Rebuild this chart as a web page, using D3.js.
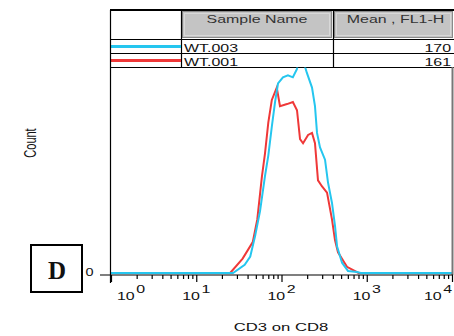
<!DOCTYPE html>
<html>
<head>
  <meta charset="utf-8">
  <script src="https://d3js.org/d3.v7.min.js"></script>
  <style>
    body { margin: 0; background: #fff; }
    text { font-family: "Liberation Sans", Arial, sans-serif; fill: #111; }
  </style>
</head>
<body>
<svg id="chart"></svg>
<script>

// histogram traces, fluorescence (FL1-H) vs count
var blueFL    = [1, 27, 37, 43, 49, 56, 64, 70, 77, 84, 91, 104, 119, 136, 152, 160, 172, 189, 199, 228, 247, 261, 283, 324, 351, 391, 424, 448, 513, 603, 770, 850, 10000];
var blueCount = [0, 0, 4, 8, 18, 30, 47, 57, 71, 83, 92, 95, 96, 95, 99, 110, 106, 100, 97, 90, 81, 68, 61, 55, 44, 34, 23, 13, 5, 1, 0.5, 0, 0];

var redFL     = [1, 25, 35, 46, 52, 59, 64, 70, 77, 88, 96, 116, 136, 152, 165, 179, 205, 228, 247, 268, 299, 342, 391, 424, 460, 586, 800, 10000];
var redCount  = [0, 0, 7, 15, 26, 47, 58, 73, 84, 90, 81, 82, 83, 79, 65, 63, 67, 68, 63, 45, 42, 39, 26, 16, 10, 3, 0, 0];

var sampleNames = ["WT.003", "WT.001"];
var sampleMeans = ["170", "161"];
var sampleColors = ["#25c6ef", "#ef3838"];
var tableHeaders = ["Sample Name", "Mean , FL1-H"];
var decades = [0, 1, 2, 3, 4];

var W = 454, H = 336;
var sx = 1.45; // the original picture is stretched sideways

var svg = d3.select("#chart").attr("width", W).attr("height", H);

var x = d3.scaleLog().domain([1, 10000]).range([111, 452]);
var y = d3.scaleLinear().domain([0, 100]).range([273, 67]);

function stext(parent, tx, ty, str, size, anchor) {
  var g = parent.append("g").attr("transform", "translate(" + tx + "," + ty + ") scale(" + sx + ",1)");
  return g.append("text").attr("font-size", size).attr("text-anchor", anchor || "start").text(str);
}

// ---- table (legend) ----
var tbl = svg.append("g");
var rowTop = {head: 10}, rowBot = {head: 39};
rowTop[sampleNames[0]] = 39; rowBot[sampleNames[0]] = 53;
rowTop[sampleNames[1]] = 53; rowBot[sampleNames[1]] = 67;
var colX = [111, 181, 333, 454];

// gray header cells
tableHeaders.forEach(function(h, i) {
  tbl.append("rect")
    .attr("x", colX[i + 1] + 1.5).attr("y", 11.5)
    .attr("width", colX[i + 2] - colX[i + 1] - 3).attr("height", 26)
    .attr("fill", "#c4c4c4").attr("stroke", "#8a8a8a").attr("stroke-width", 1);
  tbl.append("rect")
    .attr("x", colX[i + 1] + 3.5).attr("y", 13.5)
    .attr("width", colX[i + 2] - colX[i + 1] - 7).attr("height", 22)
    .attr("fill", "none").attr("stroke", "#d8d8d8").attr("stroke-width", 1);
});
stext(tbl, (colX[1] + colX[2]) / 2, 23, tableHeaders[0], 11, "middle").style("fill", "#333");
stext(tbl, (colX[2] + colX[3]) / 2 + 2, 23, tableHeaders[1], 11, "middle").style("fill", "#333");

// grid lines
tbl.append("line").attr("x1", 110).attr("x2", 454).attr("y1", 10).attr("y2", 10)
  .attr("stroke", "#000").attr("stroke-width", 2);
[39, 53, 67].forEach(function(yy) {
  tbl.append("line").attr("x1", 111).attr("x2", 454).attr("y1", yy + 0.5).attr("y2", yy + 0.5)
    .attr("stroke", "#000").attr("stroke-width", 1);
});
[181, 333].forEach(function(xx) {
  tbl.append("line").attr("x1", xx + 0.5).attr("x2", xx + 0.5).attr("y1", 10).attr("y2", 67)
    .attr("stroke", "#000").attr("stroke-width", 1.2);
});

sampleNames.forEach(function(n, i) {
  var mid = (rowTop[n] + rowBot[n]) / 2;
  tbl.append("line").attr("x1", 111).attr("x2", 181).attr("y1", mid + 0.5).attr("y2", mid + 0.5)
    .attr("stroke", sampleColors[i]).attr("stroke-width", 3);
  stext(tbl, 184, rowBot[n] - 1.5, n, 11, "start");
  stext(tbl, 451, rowBot[n] - 1.5, sampleMeans[i], 11, "end");
});

// ---- plot ----
svg.append("defs").append("clipPath").attr("id", "clip")
  .append("rect").attr("x", 111).attr("y", 67.5).attr("width", 341).attr("height", 210);

var line = d3.line()
  .x(function(d) { return x(d[0]); })
  .y(function(d) { return y(d[1]); });

var plot = svg.append("g").attr("clip-path", "url(#clip)");
plot.append("path").datum(d3.zip(redFL, redCount))
  .attr("d", line).attr("fill", "none")
  .attr("stroke", sampleColors[1]).attr("stroke-width", 2);
plot.append("path").datum(d3.zip(blueFL, blueCount))
  .attr("d", line).attr("fill", "none")
  .attr("stroke", sampleColors[0]).attr("stroke-width", 2);

// right frame edge
svg.append("line").attr("x1", 452.5).attr("x2", 452.5).attr("y1", 67).attr("y2", 275)
  .attr("stroke", "#777").attr("stroke-width", 2);

// x axis ticks
var tickVals = [];
decades.forEach(function(d) {
  for (var m = 1; m <= 9; m++) {
    var v = m * Math.pow(10, d);
    if (v <= 10000) tickVals.push(v);
  }
});
var xAxis = svg.append("g")
  .attr("transform", "translate(0,275)")
  .call(d3.axisBottom(x).tickValues(tickVals).tickSize(4).tickFormat(""));
xAxis.select(".domain").remove();
xAxis.selectAll(".tick line")
  .attr("stroke", "#000").attr("stroke-width", 1.2)
  .attr("y2", function(d) { return Math.log10(d) % 1 === 0 ? 7 : 4; });

svg.append("line").attr("x1", 100).attr("x2", 453).attr("y1", 275).attr("y2", 275)
  .attr("stroke", "#000").attr("stroke-width", 1.2);
// y axis line
svg.append("line").attr("x1", 110.5).attr("x2", 110.5).attr("y1", 10).attr("y2", 283)
  .attr("stroke", "#000").attr("stroke-width", 1.2);

// tick labels 10^n
var shift = {0: 20, 4: -14};
decades.forEach(function(d) {
  var t = stext(svg, x(Math.pow(10, d)) + (shift[d] || 0), 300, "", 11, "middle");
  t.append("tspan").text("10");
  t.append("tspan").attr("dy", -7).attr("dx", 1).text(d);
});

// y tick label
stext(svg, 89.5, 276, "0", 10, "middle");

// axis titles
stext(svg, 281, 331, "CD3 on CD8", 11.5, "middle");
svg.append("g").attr("transform", "translate(36,143) scale(" + sx + ",1) rotate(-90)")
  .append("text").attr("font-size", 11).attr("text-anchor", "middle").text("Count");

// panel letter
svg.append("rect").attr("x", 31).attr("y", 245).attr("width", 51).attr("height", 47)
  .attr("fill", "#fff").attr("stroke", "#000").attr("stroke-width", 2);
svg.append("text").attr("x", 57).attr("y", 279).attr("text-anchor", "middle")
  .style("font-family", "'Liberation Serif', 'Times New Roman', serif")
  .attr("font-weight", "bold").attr("font-size", 25).text("D");

</script>
</body>
</html>
